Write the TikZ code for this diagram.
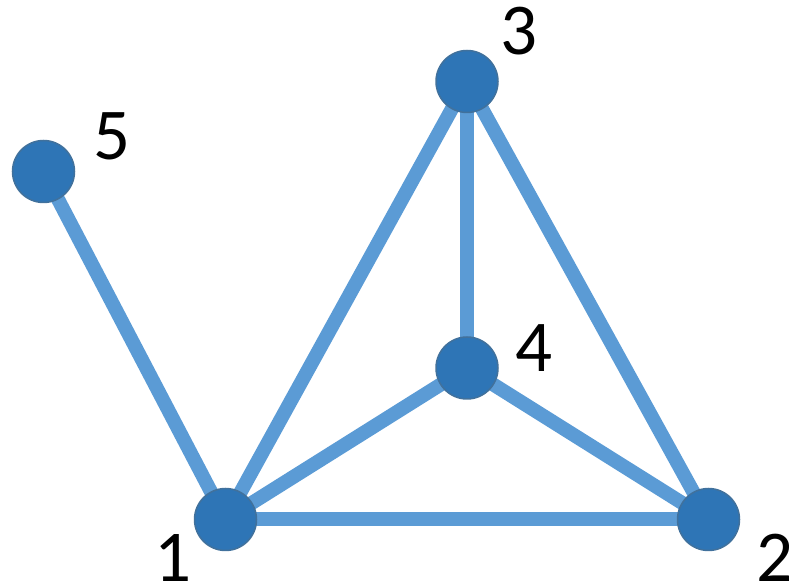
\documentclass[tikz,border=0pt]{standalone}
\usepackage{fontspec}
\setmainfont{Carlito}
\definecolor{edgeblue}{HTML}{5B9BD5}
\definecolor{nodefill}{HTML}{2E75B6}
\definecolor{nodeline}{HTML}{41719C}
\tikzset{
  vert/.style={circle,fill=nodefill,draw=nodeline,line width=1.5pt,minimum size=62pt,inner sep=0pt},
  lbl/.style={anchor=base,inner sep=0pt,font=\fontsize{73}{73}\selectfont},
  edg/.style={draw=edgeblue,line width=14pt}
}
\begin{document}
\begin{tikzpicture}[x=1pt,y=1pt]
\useasboundingbox (0,0) rectangle (789,588);
\coordinate (p1) at (225.5,68.5);
\coordinate (p2) at (708.5,68.5);
\coordinate (p3) at (467,506.5);
\coordinate (p4) at (467,220);
\coordinate (p5) at (43.5,416.5);
\draw[edg] (p5) -- (p1);
\draw[edg] (p1) -- (p3);
\draw[edg] (p1) -- (p2);
\draw[edg] (p1) -- (p4);
\draw[edg] (p3) -- (p4);
\draw[edg] (p3) -- (p2);
\draw[edg] (p4) -- (p2);
\node[vert] (n1) at (p1) {};
\node[vert] (n2) at (p2) {};
\node[vert] (n3) at (p3) {};
\node[vert] (n4) at (p4) {};
\node[vert] (n5) at (p5) {};
\node[lbl] (l1) at (173,6) {1};
\node[lbl] (l2) at (775,6) {2};
\node[lbl] (l3) at (519,533) {3};
\node[lbl] (l4) at (534,216) {4};
\node[lbl] (l5) at (112,428) {5};
\end{tikzpicture}
\end{document}
